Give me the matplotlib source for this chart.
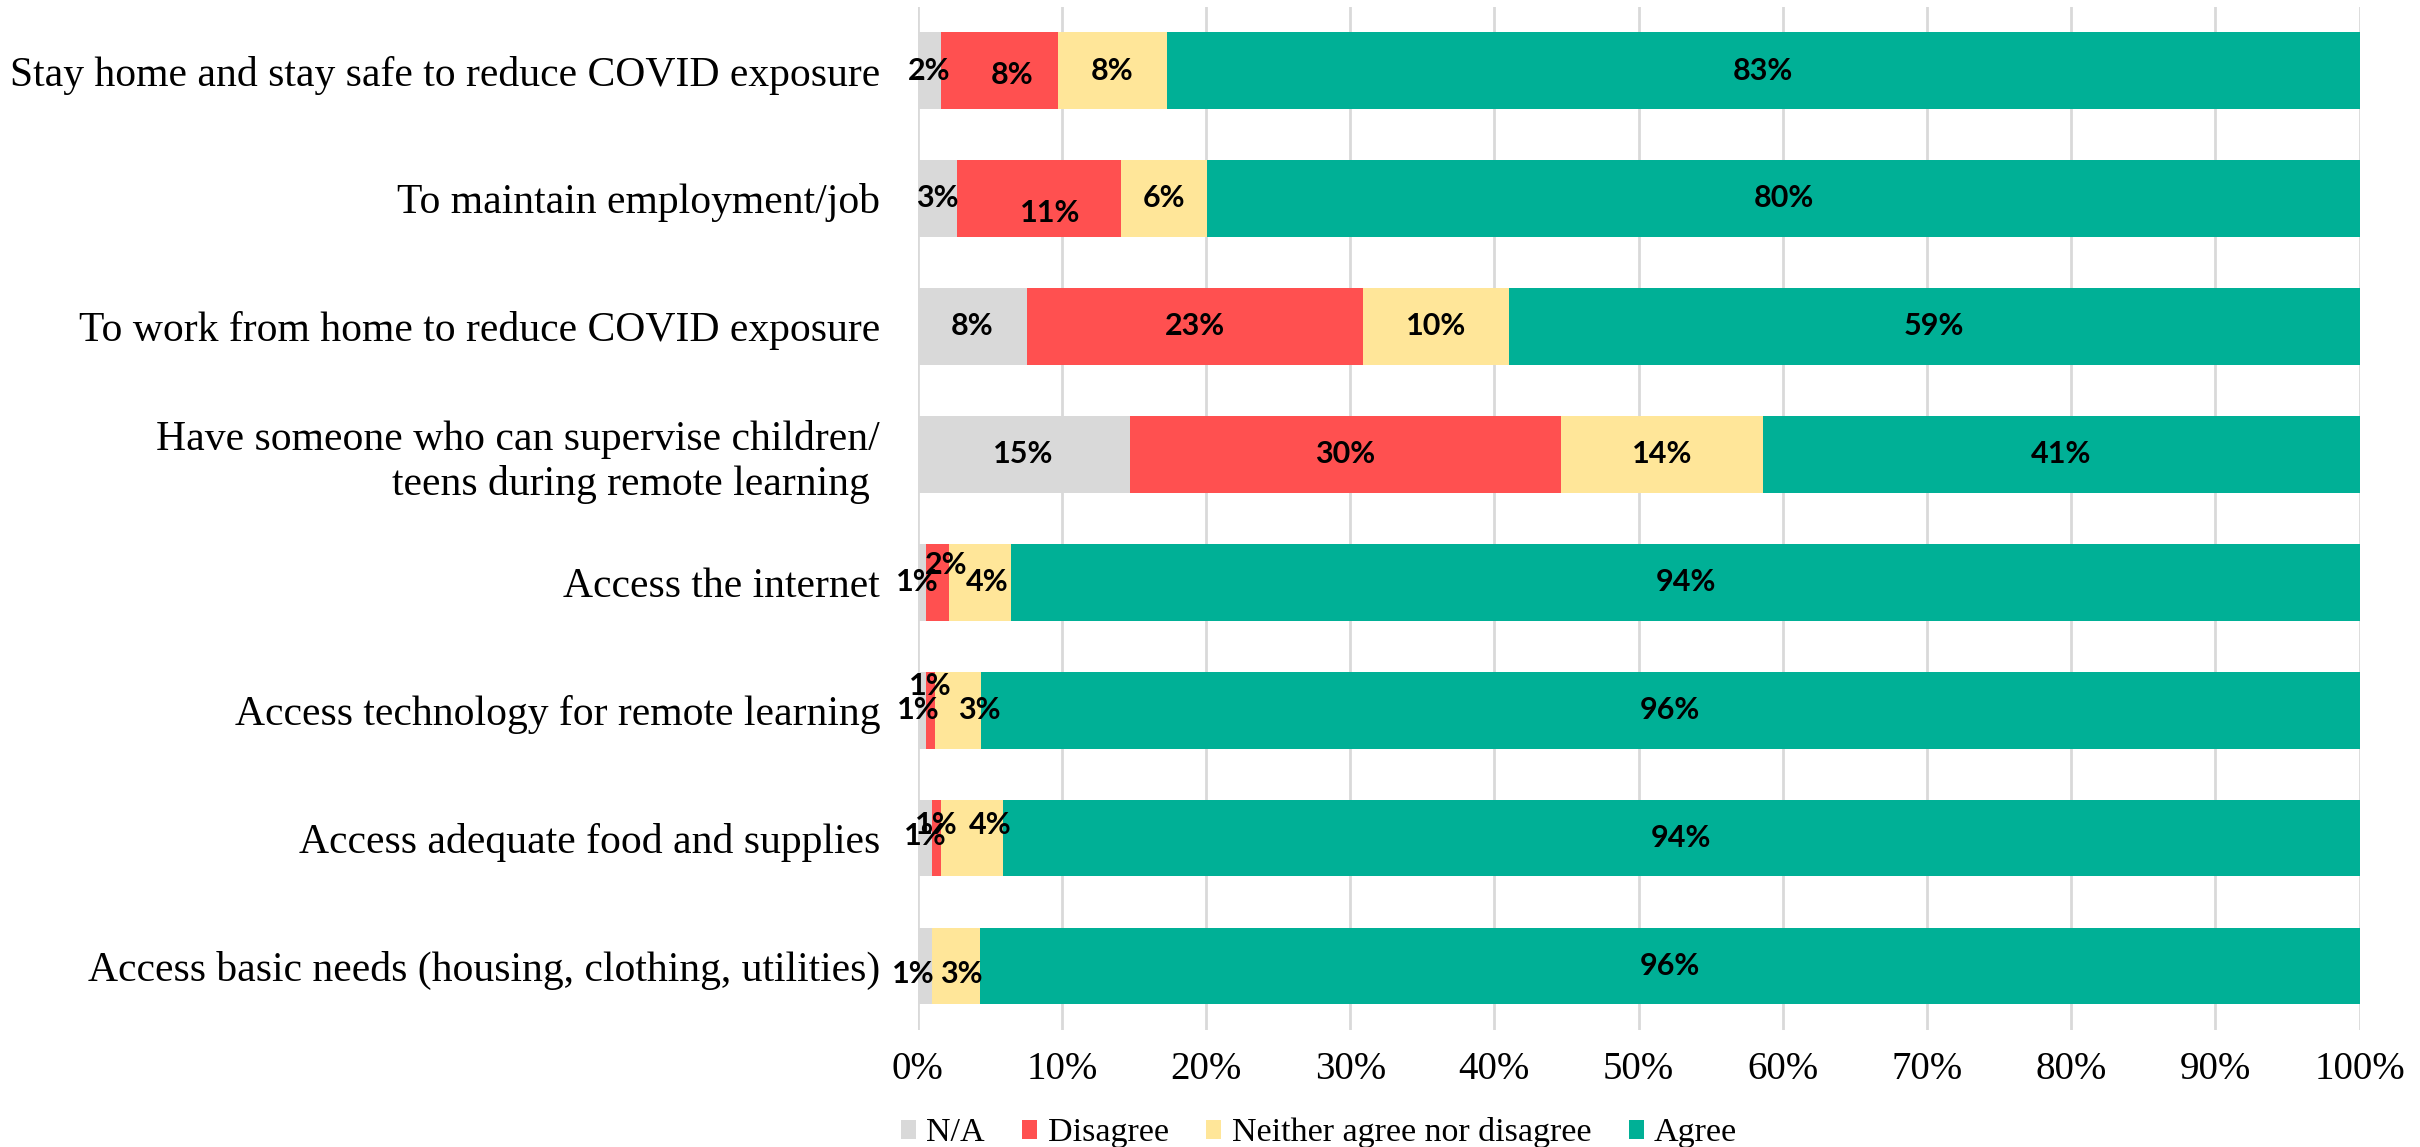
import matplotlib.pyplot as plt
from matplotlib.ticker import PercentFormatter

# data (percent), top row first
categories = [
    'Stay home and stay safe to reduce COVID exposure',
    'To maintain employment/job',
    'To work from home to reduce COVID exposure',
    'Have someone who can supervise children/\nteens during remote learning ',
    'Access the internet',
    'Access technology for remote learning',
    'Access adequate food and supplies',
    'Access basic needs (housing, clothing, utilities)',
]
na = [1.6, 2.7, 7.6, 14.7, 0.6, 0.6, 1.0, 1.0]
disagree = [8.1, 11.4, 23.3, 29.9, 1.6, 0.6, 0.6, 0.0]
neither = [7.6, 6.0, 10.1, 14.0, 4.3, 3.2, 4.3, 3.3]
agree = [82.7, 79.9, 59.0, 41.4, 93.5, 95.6, 94.1, 95.7]

series = ['N/A', 'Disagree', 'Neither agree nor disagree', 'Agree']
colors = ['#D9D9D9', '#FF5050', '#FFE699', '#00B096']

# nudges of data labels in pixels (dx, dy up), like Excel moved them
nudge = {
    (0, 1): (13, -4),
    (1, 1): (11, -15),
    (4, 0): (-5, 0), (4, 1): (8, 17), (4, 2): (7, 0),
    (5, 0): (-4, 0), (5, 1): (0, 24), (5, 2): (21, 0),
    (6, 0): (0, 2), (6, 1): (0, 13), (6, 2): (18, 13),
    (7, 0): (-12, -8), (7, 2): (5, -8),
}

dpi = 100
fig = plt.figure(figsize=(24.2, 11.47), dpi=dpi)
ax = fig.add_axes([0.3792, 0.102, 0.5958, 0.8923])

serif = 'Liberation Serif'
ypos = range(len(categories))
left = [0.0] * len(categories)
for s, (name, vals, col) in enumerate(zip(series, [na, disagree, neither, agree], colors)):
    ax.barh(ypos, vals, left=left, height=0.6, color=col, label=name, zorder=2)
    for i, v in enumerate(vals):
        if v > 0:
            dx, dy = nudge.get((i, s), (0, 0))
            ax.annotate(f'{round(v):.0f}%', (left[i] + v / 2, i),
                        xytext=(dx * 72 / dpi, dy * 72 / dpi), textcoords='offset points',
                        ha='center', va='center', fontsize=22, fontweight='bold',
                        family='Lato', color='black', zorder=3)
    left = [a + b for a, b in zip(left, vals)]

ax.set_xlim(0, 100)
ax.set_ylim(len(categories) - 0.5, -0.5)
ax.set_yticks(list(ypos))
ax.set_yticklabels(categories, family=serif, fontsize=30, ha='right', multialignment='right')
ax.set_xticks(range(0, 101, 10))
ax.xaxis.set_major_formatter(PercentFormatter(decimals=0))
for lab in ax.get_xticklabels():
    lab.set_family(serif)
    lab.set_fontsize(28)
ax.tick_params(axis='both', length=0)
ax.tick_params(axis='y', pad=27)
ax.tick_params(axis='x', pad=15)
ax.grid(axis='x', color='#D9D9D9', linewidth=2, zorder=0)
for sp in ax.spines.values():
    sp.set_visible(False)

fig.legend(loc='lower center', bbox_to_anchor=(0.545, -0.028), ncol=4, frameon=False,
           prop={'family': serif, 'size': 24.5}, handlelength=0.45, handleheight=0.45,
           handletextpad=0.3, columnspacing=1.1)

fig.savefig('out.png', dpi=dpi)
